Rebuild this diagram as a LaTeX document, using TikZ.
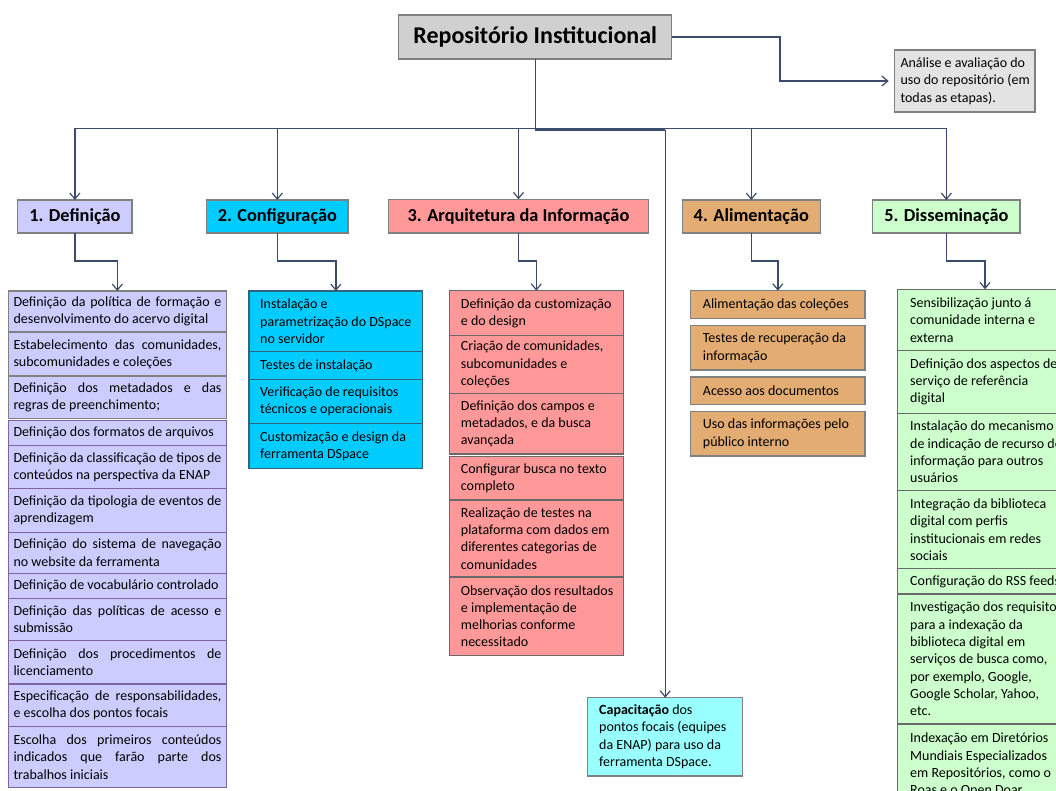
\documentclass[tikz,border=0pt]{standalone}
\usepackage{fontspec}
\setmainfont{Carlito}
\usetikzlibrary{arrows.meta}
\definecolor{lnc}{RGB}{59,75,108}
\definecolor{titlef}{RGB}{208,208,208}
\definecolor{anf}{RGB}{227,227,227}
\definecolor{c1f}{RGB}{204,204,255}
\definecolor{c1d}{RGB}{128,100,162}
\definecolor{c2f}{RGB}{0,204,255}
\definecolor{c2d}{RGB}{50,100,130}
\definecolor{c3f}{RGB}{255,153,153}
\definecolor{c4f}{RGB}{227,172,115}
\definecolor{c5f}{RGB}{204,255,204}
\definecolor{capf}{RGB}{153,255,255}
\definecolor{bgray}{RGB}{128,128,128}
\definecolor{dgray}{RGB}{105,105,105}
\newcommand{\jl}[1]{\makebox[208pt][s]{#1}}
\begin{document}
\begin{tikzpicture}[x=1pt,y=-1pt,
  conn/.style={draw=lnc,line width=1.4pt},
  arr/.style={conn,-{Straight Barb[length=6pt,width=10pt,line width=1.2pt]}},
  boxbase/.style={draw,anchor=north west,inner sep=0pt,outer sep=0pt,line width=1.3pt},
  txt/.style={anchor=west,align=left,inner sep=0pt,font={\fontsize{14}{17.3}\selectfont}},
  phase/.style={boxbase,draw=bgray,font={\fontsize{18.3}{21}\selectfont\bfseries}},
  c1a/.style={boxbase,fill=c1f,draw=bgray,minimum width=218},
  c1b/.style={boxbase,fill=c1f,draw=c1d,minimum width=218},
  c2/.style={boxbase,fill=c2f,draw=c2d,minimum width=173.7},
  c3/.style={boxbase,fill=c3f,draw=dgray,minimum width=174},
  c4/.style={boxbase,fill=c4f,draw=bgray,minimum width=174.3},
  c5/.style={boxbase,fill=c5f,draw=dgray,minimum width=175.4}]
\useasboundingbox (0,0) rectangle (1056,790);
\clip (0,0) rectangle (1056,790);
\fill[white] (0,0) rectangle (1056,790);

% title and analysis
\node[boxbase,draw=bgray,fill=titlef,minimum width=273,minimum height=44,font={\fontsize{24}{27}\selectfont\bfseries}] (title) at (398.7,15) {Repositório Institucional};
\node[boxbase,draw=bgray,fill=anf,minimum width=140.3,minimum height=62] (an) at (894.7,50) {};
\node[txt] (ant) at ([xshift=5.6]an.west) {Análise e avaliação do\\uso do repositório (em\\todas as etapas).};

% phases
\node[phase,fill=c1f,minimum width=114.3,minimum height=33] (p1) at (17.7,200) {1. Definição};
\node[phase,fill=c2f,minimum width=141.3,minimum height=33] (p2) at (206.7,200) {2. Configuração};
\node[phase,fill=c3f,minimum width=260.4,minimum height=33.7] (p3) at (388.3,199.3) {3. Arquitetura da Informação};
\node[phase,fill=c4f,minimum width=138,minimum height=33] (p4) at (682.3,200) {4. Alimentação};
\node[phase,fill=c5f,minimum width=147.3,minimum height=33] (p5) at (872.7,200) {5. Disseminação};

% column 1
\node[c1a,minimum height=41] (d1) at (8.3,291) {};
\node[txt] (d1t) at ([xshift=5]d1.west) {\jl{Definição da política de formação e}\\desenvolvimento do acervo digital};
\node[c1a,minimum height=44] (d2) at (8.3,332) {};
\node[txt] (d2t) at ([xshift=5]d2.west) {\jl{Estabelecimento  das  comunidades,}\\subcomunidades e coleções};
\node[c1a,minimum height=42.3] (d3) at (8.3,376) {};
\node[txt] (d3t) at ([xshift=5]d3.west) {\jl{Definição dos metadados e das}\\regras de preenchimento;};
\node[c1b,minimum height=25.4] (d4) at (8.3,420.3) {};
\node[txt] (d4t) at ([xshift=5]d4.west) {Definição dos formatos de arquivos};
\node[c1b,minimum height=42.6] (d5) at (8.3,445.7) {};
\node[txt] (d5t) at ([xshift=5]d5.west) {\jl{Definição da classificação de tipos de}\\conteúdos na perspectiva da ENAP};
\node[c1b,minimum height=44] (d6) at (8.3,488.3) {};
\node[txt] (d6t) at ([xshift=5]d6.west) {\jl{Definição da tipologia de eventos de}\\aprendizagem};
\node[c1b,minimum height=41] (d7) at (8.3,532.3) {};
\node[txt] (d7t) at ([xshift=5]d7.west) {\jl{Definição do sistema de navegação}\\no website da ferramenta};
\node[c1b,minimum height=25] (d8) at (8.3,573.3) {};
\node[txt] (d8t) at ([xshift=5]d8.west) {Definição de vocabulário controlado};
\node[c1b,minimum height=42.4] (d9) at (8.3,598.3) {};
\node[txt] (d9t) at ([xshift=5]d9.west) {\jl{Definição das políticas de acesso e}\\submissão};
\node[c1b,minimum height=43.3] (d10) at (8.3,640.7) {};
\node[txt] (d10t) at ([xshift=5]d10.west) {\jl{Definição dos procedimentos de}\\licenciamento};
\node[c1b,minimum height=42.7] (d11) at (8.3,684) {};
\node[txt] (d11t) at ([xshift=5]d11.west) {\jl{Especificação de responsabilidades,}\\e escolha dos pontos focais};
\node[c1b,minimum height=60.6] (d12) at (8.3,726.7) {};
\node[txt] (d12t) at ([xshift=5]d12.west) {\jl{Escolha dos primeiros conteúdos}\\\jl{indicados que farão parte dos}\\trabalhos iniciais};

% column 2
\node[c2,minimum height=60.7] (e1) at (249,291) {};
\node[txt] (e1t) at ([xshift=11]e1.west) {Instalação e\\parametrização do DSpace\\no servidor};
\node[c2,minimum height=27.6] (e2) at (249,351.7) {};
\node[txt] (e2t) at ([xshift=11]e2.west) {Testes de instalação};
\node[c2,minimum height=44] (e3) at (249,379.3) {};
\node[txt] (e3t) at ([xshift=11]e3.west) {Verificação de requisitos\\técnicos e operacionais};
\node[c2,minimum height=45.4] (e4) at (249,423.3) {};
\node[txt] (e4t) at ([xshift=11]e4.west) {Customização e design da\\ferramenta DSpace};

% column 3
\node[c3,minimum height=45] (f1) at (449.3,290.7) {};
\node[txt] (f1t) at ([xshift=11.4]f1.west) {Definição da customização\\e do design};
\node[c3,minimum height=57.6] (f2) at (449.3,335.7) {};
\node[txt] (f2t) at ([xshift=11.4]f2.west) {Criação de comunidades,\\subcomunidades e\\coleções};
\node[c3,minimum height=60.7] (f3) at (449.3,393.3) {};
\node[txt] (f3t) at ([xshift=11.4]f3.west) {Definição dos campos e\\metadados, e da busca\\avançada};
\node[c3,minimum height=43.3] (f4) at (449.3,456.7) {};
\node[txt] (f4t) at ([xshift=11.4]f4.west) {Configurar busca no texto\\completo};
\node[c3,minimum height=77] (f5) at (449.3,500) {};
\node[txt] (f5t) at ([xshift=11.4]f5.west) {Realização de testes na\\plataforma com dados em\\diferentes categorias de\\comunidades};
\node[c3,minimum height=78.3] (f6) at (449.3,577) {};
\node[txt] (f6t) at ([xshift=11.4]f6.west) {Observação dos resultados\\e implementação de\\melhorias conforme\\necessitado};

% capacitacao
\node[boxbase,draw=bgray,fill=capf,minimum width=155,minimum height=78.3] (cap) at (587.7,697.7) {};
\node[txt] (capt) at ([xshift=11.3]cap.west) {\textbf{Capacitação} dos\\pontos focais (equipes\\da ENAP) para uso da\\ferramenta DSpace.};

% column 4
\node[c4,minimum height=27.6] (g1) at (690.7,290.7) {};
\node[txt] (g1t) at ([xshift=12]g1.west) {Alimentação das coleções};
\node[c4,minimum height=44.3] (g2) at (690.7,325.7) {};
\node[txt] (g2t) at ([xshift=12]g2.west) {Testes de recuperação da\\informação};
\node[c4,minimum height=27.3] (g3) at (690.7,377) {};
\node[txt] (g3t) at ([xshift=12]g3.west) {Acesso aos documentos};
\node[c4,minimum height=44.3] (g4) at (690.7,411.7) {};
\node[txt] (g4t) at ([xshift=12]g4.west) {Uso das informações pelo\\público interno};

% column 5
\node[c5,minimum height=61.4] (h1) at (897.3,289.3) {};
\node[txt] (h1t) at ([xshift=12.7]h1.west) {Sensibilização junto á\\comunidade interna e\\externa};
\node[c5,minimum height=62.6] (h2) at (897.3,350.7) {};
\node[txt] (h2t) at ([xshift=12.7]h2.west) {Definição dos aspectos de\\serviço de referência\\digital};
\node[c5,minimum height=77.4] (h3) at (897.3,413.3) {};
\node[txt] (h3t) at ([xshift=12.7]h3.west) {Instalação do mecanismo\\de indicação de recurso de\\informação para outros\\usuários};
\node[c5,minimum height=78] (h4) at (897.3,490.7) {};
\node[txt] (h4t) at ([xshift=12.7]h4.west) {Integração da biblioteca\\digital com perfis\\institucionais em redes\\sociais};
\node[c5,minimum height=25.3] (h5) at (897.3,568.7) {};
\node[txt] (h5t) at ([xshift=12.7]h5.west) {Configuração do RSS feeds};
\node[c5,minimum height=130] (h6) at (897.3,594) {};
\node[txt] (h6t) at ([xshift=12.7]h6.west) {Investigação dos requisitos\\para a indexação da\\biblioteca digital em\\serviços de busca como,\\por exemplo, Google,\\Google Scholar, Yahoo,\\etc.};
\node[c5,minimum height=82] (h7) at (897.3,724) {};
\node[txt] (h7t) at ([xshift=12.7]h7.west) {Indexação em Diretórios\\Mundiais Especializados\\em Repositórios, como o\\Roas e o Open Doar};

% connectors
\coordinate (bus) at (535.2,128.3);
\coordinate (bus2) at (535.2,130);
\coordinate (ank) at (780,37);
\draw[conn] (title.south) -- (bus);
\draw[conn] (p1.north |- bus) -- (p5.north |- bus);
\foreach \p in {p1,p2,p3,p4,p5} \draw[arr] (\p.north |- bus) -- (\p.north);
\draw[conn,line width=2.6pt] (bus2) -- (bus2 -| cap.north);
\draw[arr] (bus2 -| cap.north) -- (cap.north);
\draw[arr,shorten >=6pt] (title.east) -- (title.east -| ank) |- (an.west);
\draw[arr] (p1.south) -- ++(0,28) -| (d1.north);
\draw[arr] (p2.south) -- ++(0,28) -| (e1.north);
\draw[arr] (p3.south) -- ++(0,28) -| (f1.north);
\draw[arr] (p4.south) -- ++(0,28) -| (g1.north);
\draw[arr] (p5.south) -- ++(0,28) -| (h1.north);
\end{tikzpicture}
\end{document}
